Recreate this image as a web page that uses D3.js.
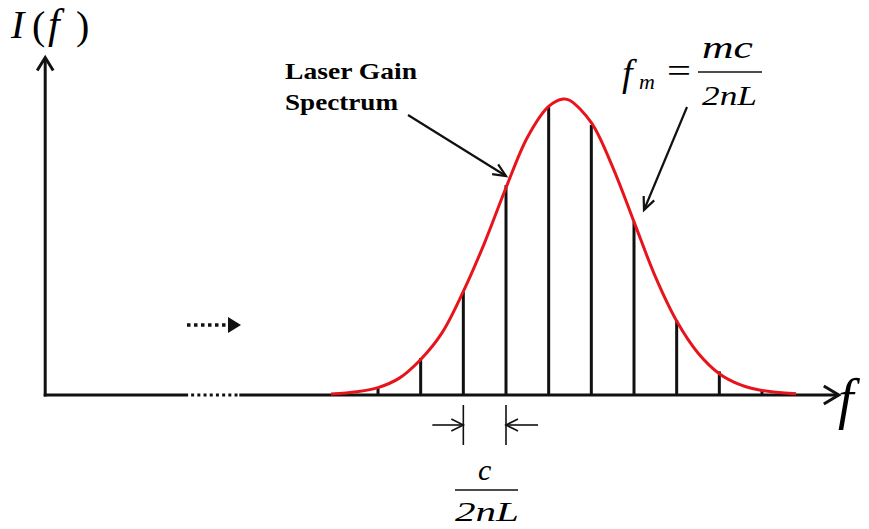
<!DOCTYPE html>
<html>
<head>
<meta charset="utf-8">
<script src="https://cdn.jsdelivr.net/npm/d3@7"></script>
<style>
  html, body { margin: 0; padding: 0; background: #fff; }
  svg { display: block; }
  text { font-family: "Liberation Serif", "Times New Roman", serif; fill: #000; }
</style>
</head>
<body>
<svg id="chart" width="869" height="529"></svg>
<script>
// Longitudinal cavity modes (index m, relative intensity)
const modeIndex = [0, 1, 2, 3, 4, 5, 6, 7, 8, 9];
const modeIntensity = [0.024, 0.125, 0.348, 0.709, 0.973, 0.912, 0.584, 0.253, 0.080, 0.017];

// Gain spectrum envelope, sampled in units of the mode spacing
const gainFreq = [-1.1, -0.5, 0, 0.5, 1, 1.5, 2, 2.5, 3, 3.5, 4, 4.34, 4.5, 5, 5.5, 6, 6.5, 7, 7.5, 8, 8.5, 9, 9.8];
const gainValue = [0.003, 0.011, 0.025, 0.057, 0.12, 0.21, 0.35, 0.515, 0.70, 0.87, 0.975, 1.0, 0.995, 0.92, 0.77, 0.585, 0.40, 0.25, 0.142, 0.072, 0.034, 0.015, 0.004];

// Axis extent and broken-axis segment (same frequency units)
const axisFreq = [-7.8, 10.8];
const axisBreak = [-4.45, -3.25];
const axisTopIntensity = 1.14;

const svg = d3.select("#chart");
const x = d3.scaleLinear().domain([0, 9]).range([378, 762]);
const y = d3.scaleLinear().domain([0, 1]).range([395, 99]);

const ink = "#111";

// ---- axes ----
const xAxis = svg.append("g").attr("stroke", ink).attr("stroke-width", 3).attr("fill", "none");
xAxis.append("line").attr("x1", x(axisFreq[0]) - 1.5).attr("x2", x(axisBreak[0]))
  .attr("y1", y(0)).attr("y2", y(0));
xAxis.append("line").attr("x1", x(axisBreak[0]) + 3).attr("x2", x(axisBreak[1]))
  .attr("y1", y(0)).attr("y2", y(0)).attr("stroke-dasharray", "3,3.2");
xAxis.append("line").attr("x1", x(axisBreak[1])).attr("x2", x(axisFreq[1]))
  .attr("y1", y(0)).attr("y2", y(0));
// x arrow head
xAxis.append("path")
  .attr("d", `M${x(axisFreq[1]) - 15},${y(0) - 9} L${x(axisFreq[1])},${y(0)} L${x(axisFreq[1]) - 15},${y(0) + 9}`)
  .attr("stroke-linejoin", "miter");

const yAxis = svg.append("g").attr("stroke", ink).attr("stroke-width", 3).attr("fill", "none");
yAxis.append("line").attr("x1", x(axisFreq[0])).attr("x2", x(axisFreq[0]))
  .attr("y1", y(0) + 1.5).attr("y2", y(axisTopIntensity) + 2);
yAxis.append("path")
  .attr("d", `M${x(axisFreq[0]) - 8},${y(axisTopIntensity) + 13} L${x(axisFreq[0])},${y(axisTopIntensity)} L${x(axisFreq[0]) + 8},${y(axisTopIntensity) + 13}`)
  .attr("stroke-linejoin", "miter");

// dotted "continues" arrow above the break
const dotY = 325;
svg.append("line").attr("x1", 187).attr("x2", 229).attr("y1", dotY).attr("y2", dotY)
  .attr("stroke", ink).attr("stroke-width", 3.5).attr("stroke-dasharray", "3.5,3.5");
svg.append("path").attr("d", `M228,${dotY - 8} L241,${dotY} L228,${dotY + 8} Z`).attr("fill", ink);

// ---- mode lines ----
svg.append("g").selectAll("line").data(modeIndex).join("line")
  .attr("x1", d => x(d)).attr("x2", d => x(d))
  .attr("y1", y(0)).attr("y2", (d, i) => y(modeIntensity[i]))
  .attr("stroke", ink).attr("stroke-width", 3);

// ---- gain curve ----
const gainPts = gainFreq.map((f, i) => [f, gainValue[i]]);
svg.append("path").datum(gainPts)
  .attr("d", d3.line().x(d => x(d[0])).y(d => y(d[1])).curve(d3.curveCatmullRom.alpha(0.5)))
  .attr("fill", "none").attr("stroke", "#e8141b").attr("stroke-width", 3);

// ---- annotations ----
function arrow(x1, y1, x2, y2, head = 14, spread = 0.42, w = 2.2) {
  const a = Math.atan2(y2 - y1, x2 - x1);
  const g = svg.append("g").attr("stroke", ink).attr("stroke-width", w).attr("fill", "none");
  g.append("line").attr("x1", x1).attr("y1", y1).attr("x2", x2).attr("y2", y2);
  g.append("path").attr("d",
    `M${x2 - head * Math.cos(a - spread)},${y2 - head * Math.sin(a - spread)} L${x2},${y2} L${x2 - head * Math.cos(a + spread)},${y2 - head * Math.sin(a + spread)}`);
}

// Laser gain spectrum label
svg.append("text").attr("x", 285).attr("y", 79).attr("font-weight", "bold").attr("font-size", 24)
  .attr("textLength", 132).attr("lengthAdjust", "spacingAndGlyphs").text("Laser Gain");
svg.append("text").attr("x", 285).attr("y", 110).attr("font-weight", "bold").attr("font-size", 24)
  .attr("textLength", 113).attr("lengthAdjust", "spacingAndGlyphs").text("Spectrum");
arrow(408, 115, 506, 176);

// f_m = mc / 2nL
svg.append("text").attr("x", 622).attr("y", 86).attr("font-style", "italic").attr("font-size", 38).text("f");
svg.append("text").attr("x", 639).attr("y", 89).attr("font-style", "italic").attr("font-size", 22).text("m");
svg.append("text").attr("x", 667).attr("y", 82).attr("font-size", 34)
  .attr("textLength", 24).attr("lengthAdjust", "spacingAndGlyphs").text("=");
svg.append("line").attr("x1", 698).attr("x2", 762).attr("y1", 72).attr("y2", 72)
  .attr("stroke", ink).attr("stroke-width", 1.6);
svg.append("text").attr("x", 702).attr("y", 58).attr("font-style", "italic").attr("font-size", 31)
  .attr("textLength", 51).attr("lengthAdjust", "spacingAndGlyphs").text("mc");
svg.append("text").attr("x", 702).attr("y", 105).attr("font-style", "italic").attr("font-size", 28)
  .attr("textLength", 55).attr("lengthAdjust", "spacingAndGlyphs").text("2nL");
arrow(687, 107, 644, 210);

// mode spacing marker c / 2nL between modes 2 and 3
const sp = [2, 3];
const mk = svg.append("g").attr("stroke", ink).attr("stroke-width", 1.6).attr("fill", "none");
sp.forEach(m => mk.append("line").attr("x1", x(m)).attr("x2", x(m)).attr("y1", 405).attr("y2", 445));
function smallArrow(x1, x2, yy) {
  const dir = Math.sign(x2 - x1);
  mk.append("line").attr("x1", x1).attr("x2", x2).attr("y1", yy).attr("y2", yy);
  mk.append("path").attr("d", `M${x2 - dir * 12},${yy - 6} L${x2},${yy} L${x2 - dir * 12},${yy + 6}`);
}
smallArrow(x(sp[0]) - 31, x(sp[0]), 425);
smallArrow(x(sp[1]) + 32, x(sp[1]), 425);
svg.append("text").attr("x", (x(sp[0]) + x(sp[1])) / 2).attr("y", 480).attr("text-anchor", "middle")
  .attr("font-style", "italic").attr("font-size", 30).text("c");
svg.append("line").attr("x1", 455).attr("x2", 518).attr("y1", 490).attr("y2", 490)
  .attr("stroke", ink).attr("stroke-width", 1.6);
svg.append("text").attr("x", 455).attr("y", 521).attr("font-style", "italic").attr("font-size", 28)
  .attr("textLength", 64).attr("lengthAdjust", "spacingAndGlyphs").text("2nL");

// axis titles
const it = svg.append("g").attr("font-size", 40);
it.append("text").attr("x", 11).attr("y", 38).attr("font-style", "italic").text("I");
it.append("text").attr("x", 32).attr("y", 39).text("(");
it.append("text").attr("x", 48).attr("y", 38).attr("font-style", "italic").attr("font-size", 42).text("f");
it.append("text").attr("x", 76).attr("y", 39).text(")");
svg.append("text").attr("x", 838).attr("y", 418).attr("font-style", "italic").attr("font-size", 56).text("f");
</script>
</body>
</html>
